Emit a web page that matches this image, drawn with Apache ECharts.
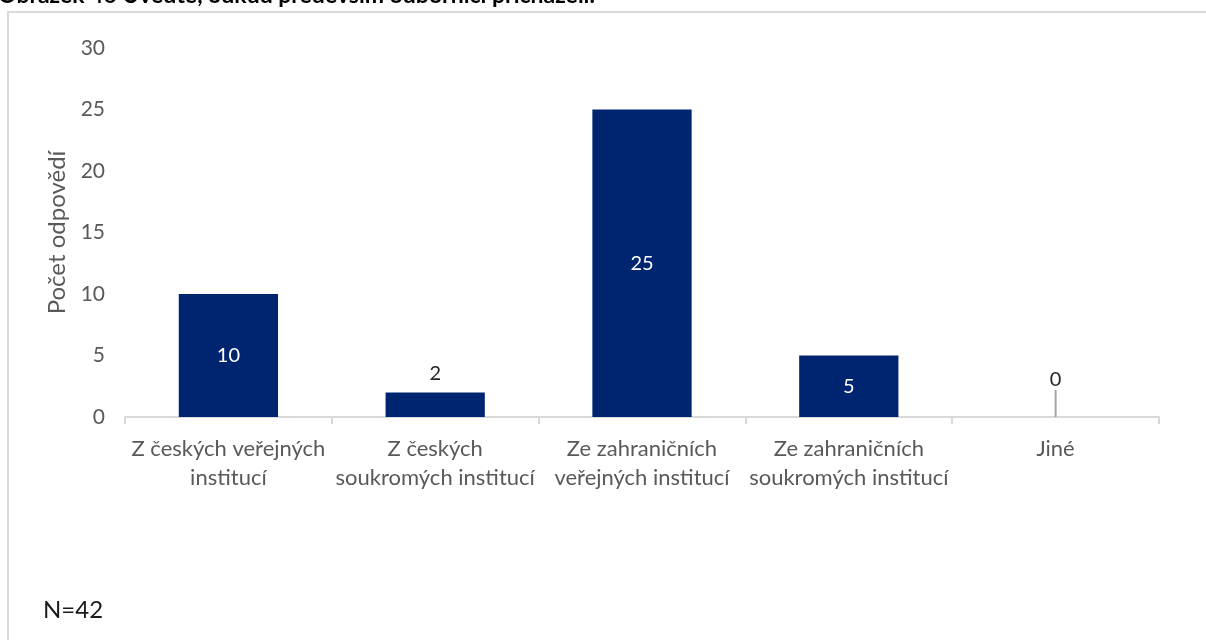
<!DOCTYPE html>
<html>
<head>
<meta charset="utf-8">
<script src="https://cdn.jsdelivr.net/npm/echarts@6/dist/echarts.min.js"></script>
<style>
html,body{margin:0;padding:0;background:#fff;}
#chart{width:1206px;height:640px;}
</style>
</head>
<body>
<div id="chart"></div>
<script>
const titleText = 'Obrázek 46 Uveďte, odkud především odborníci přicházeli.';
const categories = [
  'Z českých veřejných\ninstitucí',
  'Z českých\nsoukromých institucí',
  'Ze zahraničních\nveřejných institucí',
  'Ze zahraničních\nsoukromých institucí',
  'Jiné'
];
const values = [10, 2, 25, 5, 0];
const yAxisName = 'Počet odpovědí';
const noteText = 'N=42';
const yTicks = { min: 0, max: 30, interval: 5 };

const FONT = 'Lato, "Open Sans", sans-serif';
const chart = echarts.init(document.getElementById('chart'), null, { renderer: 'canvas' });

const data = values.map(function (v) {
  const big = v >= 5;
  return {
    value: v,
    label: big
      ? { position: 'inside', color: '#ffffff' }
      : { position: 'top', color: '#262626', distance: 9 },
    labelLine: { show: v === 0 }
  };
});

chart.setOption({
  animation: false,
  backgroundColor: '#ffffff',
  textStyle: { fontFamily: FONT },
  graphic: [
    {
      type: 'rect',
      shape: { x: 8, y: 12, width: 1220, height: 700 },
      style: { fill: 'none', stroke: '#d9d9d9', lineWidth: 2 },
      silent: true
    },
    {
      type: 'text',
      left: -2,
      top: -16,
      style: { text: titleText, font: 'bold 23px ' + FONT, fill: '#000000' },
      silent: true
    },
    {
      type: 'text',
      left: 43,
      top: 598,
      style: { text: noteText, font: '24px ' + FONT, fill: '#1a1a1a' },
      silent: true
    }
  ],
  grid: { left: 125, right: 47, top: 48, bottom: 223, containLabel: false },
  xAxis: {
    type: 'category',
    data: categories,
    axisLine: { show: true, lineStyle: { color: '#d9d9d9', width: 2 } },
    axisTick: { show: true, alignWithLabel: false, length: 7, lineStyle: { color: '#d9d9d9', width: 2 } },
    axisLabel: {
      color: '#595959', fontSize: 22, fontFamily: FONT, lineHeight: 29, margin: 17, interval: 0
    }
  },
  yAxis: {
    type: 'value',
    min: yTicks.min, max: yTicks.max, interval: yTicks.interval,
    name: yAxisName,
    nameLocation: 'middle',
    nameGap: 56,
    nameRotate: 90,
    nameTextStyle: { color: '#595959', fontSize: 24, fontFamily: FONT },
    axisLine: { show: false },
    axisTick: { show: false },
    splitLine: { show: false },
    axisLabel: { color: '#595959', fontSize: 21, fontFamily: FONT, margin: 20 }
  },
  series: [{
    type: 'bar',
    data: data,
    barCategoryGap: '52%',
    itemStyle: { color: '#002570' },
    label: { show: true, fontSize: 20, fontFamily: FONT },
    labelLayout: function (p) {
      if (values[p.dataIndex] === 0) { return { dy: -18 }; }
      return {};
    },
    labelLine: { show: false, lineStyle: { color: '#a6a6a6', width: 2 } }
  }]
});
</script>
</body>
</html>
